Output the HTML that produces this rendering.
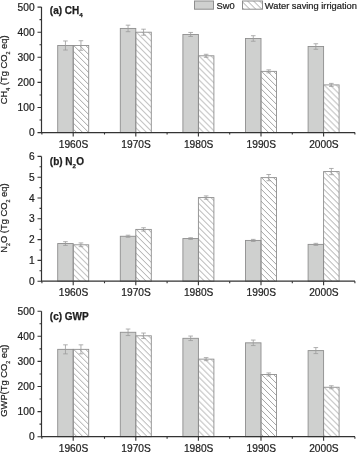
<!DOCTYPE html>
<html><head><meta charset="utf-8"><style>
html,body{margin:0;padding:0;background:#fff;}
body{width:357px;height:452px;overflow:hidden;}
svg{display:block;filter:blur(0.35px);}
text{font-family:"Liberation Sans",sans-serif;fill:#1e1e1e;stroke:#1e1e1e;stroke-width:0.22px;}
.t{font-size:10.2px;}
.ti{font-size:10px;font-weight:bold;stroke-width:0.25px;}
.sub{font-size:5.6px;}
.ti .sub{font-size:6.2px;}
.yl{font-size:9.9px;}
.lg{font-size:9.3px;}
</style></head><body>
<svg width="357" height="452" viewBox="0 0 357 452">
<defs>
<pattern id="ha0" patternUnits="userSpaceOnUse" width="6" height="6" patternTransform="translate(73.2 45)"><path d="M-1 5L1 7M0 0L6 6M5 -1L7 1" stroke="#9a9a9a" stroke-width="0.9"/></pattern>
<pattern id="ha1" patternUnits="userSpaceOnUse" width="6" height="6" patternTransform="translate(135.8 31.7)"><path d="M-1 5L1 7M0 0L6 6M5 -1L7 1" stroke="#9a9a9a" stroke-width="0.9"/></pattern>
<pattern id="ha2" patternUnits="userSpaceOnUse" width="6" height="6" patternTransform="translate(198.4 55.29)"><path d="M-1 5L1 7M0 0L6 6M5 -1L7 1" stroke="#9a9a9a" stroke-width="0.9"/></pattern>
<pattern id="ha3" patternUnits="userSpaceOnUse" width="6" height="6" patternTransform="translate(261 70.86)"><path d="M-1 5L1 7M0 0L6 6M5 -1L7 1" stroke="#9a9a9a" stroke-width="0.9"/></pattern>
<pattern id="ha4" patternUnits="userSpaceOnUse" width="6" height="6" patternTransform="translate(323.6 84.41)"><path d="M-1 5L1 7M0 0L6 6M5 -1L7 1" stroke="#9a9a9a" stroke-width="0.9"/></pattern>
<pattern id="hb0" patternUnits="userSpaceOnUse" width="6" height="6" patternTransform="translate(73.2 244.3)"><path d="M-1 5L1 7M0 0L6 6M5 -1L7 1" stroke="#9a9a9a" stroke-width="0.9"/></pattern>
<pattern id="hb1" patternUnits="userSpaceOnUse" width="6" height="6" patternTransform="translate(135.8 228.91)"><path d="M-1 5L1 7M0 0L6 6M5 -1L7 1" stroke="#9a9a9a" stroke-width="0.9"/></pattern>
<pattern id="hb2" patternUnits="userSpaceOnUse" width="6" height="6" patternTransform="translate(198.4 197.08)"><path d="M-1 5L1 7M0 0L6 6M5 -1L7 1" stroke="#9a9a9a" stroke-width="0.9"/></pattern>
<pattern id="hb3" patternUnits="userSpaceOnUse" width="6" height="6" patternTransform="translate(261 177.12)"><path d="M-1 5L1 7M0 0L6 6M5 -1L7 1" stroke="#9a9a9a" stroke-width="0.9"/></pattern>
<pattern id="hb4" patternUnits="userSpaceOnUse" width="6" height="6" patternTransform="translate(323.6 171.08)"><path d="M-1 5L1 7M0 0L6 6M5 -1L7 1" stroke="#9a9a9a" stroke-width="0.9"/></pattern>
<pattern id="hc0" patternUnits="userSpaceOnUse" width="6" height="6" patternTransform="translate(73.2 348.85)"><path d="M-1 5L1 7M0 0L6 6M5 -1L7 1" stroke="#9a9a9a" stroke-width="0.9"/></pattern>
<pattern id="hc1" patternUnits="userSpaceOnUse" width="6" height="6" patternTransform="translate(135.8 335.3)"><path d="M-1 5L1 7M0 0L6 6M5 -1L7 1" stroke="#9a9a9a" stroke-width="0.9"/></pattern>
<pattern id="hc2" patternUnits="userSpaceOnUse" width="6" height="6" patternTransform="translate(198.4 358.64)"><path d="M-1 5L1 7M0 0L6 6M5 -1L7 1" stroke="#9a9a9a" stroke-width="0.9"/></pattern>
<pattern id="hc3" patternUnits="userSpaceOnUse" width="6" height="6" patternTransform="translate(261 373.95)"><path d="M-1 5L1 7M0 0L6 6M5 -1L7 1" stroke="#9a9a9a" stroke-width="0.9"/></pattern>
<pattern id="hc4" patternUnits="userSpaceOnUse" width="6" height="6" patternTransform="translate(323.6 386.75)"><path d="M-1 5L1 7M0 0L6 6M5 -1L7 1" stroke="#9a9a9a" stroke-width="0.9"/></pattern>
<pattern id="h2" patternUnits="userSpaceOnUse" width="6" height="6" patternTransform="translate(0.9 0.4)">
<path d="M-1 5L1 7M0 0L6 6M5 -1L7 1" stroke="#9a9a9a" stroke-width="0.9"/>
</pattern>
</defs>
<rect width="357" height="452" fill="#fff"/>
<rect x="57.7" y="45.5" width="15.5" height="87.1" fill="#cfd0cf" stroke="#8e8e8e" stroke-width="0.9"/>
<path d="M65.45 40.98V50.02M63.15 40.98H67.75M63.15 50.02H67.75" stroke="#9c9c9c" stroke-width="0.8" fill="none"/>
<rect x="73.2" y="45.5" width="15.5" height="87.1" fill="url(#ha0)" stroke="#8e8e8e" stroke-width="0.9"/>
<path d="M80.95 40.73V50.27M78.65 40.73H83.25M78.65 50.27H83.25" stroke="#9c9c9c" stroke-width="0.8" fill="none"/>
<rect x="120.3" y="28.43" width="15.5" height="104.17" fill="#cfd0cf" stroke="#8e8e8e" stroke-width="0.9"/>
<path d="M128.05 25.17V31.7M125.75 25.17H130.35M125.75 31.7H130.35" stroke="#9c9c9c" stroke-width="0.8" fill="none"/>
<rect x="135.8" y="32.2" width="15.5" height="100.4" fill="url(#ha1)" stroke="#8e8e8e" stroke-width="0.9"/>
<path d="M143.55 29.19V35.21M141.25 29.19H145.85M141.25 35.21H145.85" stroke="#9c9c9c" stroke-width="0.8" fill="none"/>
<rect x="182.9" y="34.46" width="15.5" height="98.14" fill="#cfd0cf" stroke="#8e8e8e" stroke-width="0.9"/>
<path d="M190.65 32.45V36.47M188.35 32.45H192.95M188.35 36.47H192.95" stroke="#9c9c9c" stroke-width="0.8" fill="none"/>
<rect x="198.4" y="55.79" width="15.5" height="76.81" fill="url(#ha2)" stroke="#8e8e8e" stroke-width="0.9"/>
<path d="M206.15 54.29V57.3M203.85 54.29H208.45M203.85 57.3H208.45" stroke="#9c9c9c" stroke-width="0.8" fill="none"/>
<rect x="245.5" y="38.47" width="15.5" height="94.12" fill="#cfd0cf" stroke="#8e8e8e" stroke-width="0.9"/>
<path d="M253.25 35.71V41.24M250.95 35.71H255.55M250.95 41.24H255.55" stroke="#9c9c9c" stroke-width="0.8" fill="none"/>
<rect x="261" y="71.36" width="15.5" height="61.24" fill="url(#ha3)" stroke="#8e8e8e" stroke-width="0.9"/>
<path d="M268.75 69.85V72.86M266.45 69.85H271.05M266.45 72.86H271.05" stroke="#9c9c9c" stroke-width="0.8" fill="none"/>
<rect x="308.1" y="46.51" width="15.5" height="86.09" fill="#cfd0cf" stroke="#8e8e8e" stroke-width="0.9"/>
<path d="M315.85 43.75V49.27M313.55 43.75H318.15M313.55 49.27H318.15" stroke="#9c9c9c" stroke-width="0.8" fill="none"/>
<rect x="323.6" y="84.91" width="15.5" height="47.69" fill="url(#ha4)" stroke="#8e8e8e" stroke-width="0.9"/>
<path d="M331.35 83.4V86.42M329.05 83.4H333.65M329.05 86.42H333.65" stroke="#9c9c9c" stroke-width="0.8" fill="none"/>
<path d="M41.5 7.1V132.6H355" stroke="#333333" stroke-width="1.2" fill="none"/>
<path d="M37.5 132.6H41.5M39.5 120.05H41.5M37.5 107.5H41.5M39.5 94.95H41.5M37.5 82.4H41.5M39.5 69.85H41.5M37.5 57.3H41.5M39.5 44.75H41.5M37.5 32.2H41.5M39.5 19.65H41.5M37.5 7.1H41.5M73.2 132.6V136.6M135.8 132.6V136.6M198.4 132.6V136.6M261 132.6V136.6M323.6 132.6V136.6M41.9 132.6V134.6M104.5 132.6V134.6M167.1 132.6V134.6M229.7 132.6V134.6M292.3 132.6V134.6M354.9 132.6V134.6" stroke="#333333" stroke-width="1.1" fill="none"/>
<text x="34.6" y="136.2" text-anchor="end" class="t">0</text>
<text x="34.6" y="111.1" text-anchor="end" class="t">100</text>
<text x="34.6" y="86" text-anchor="end" class="t">200</text>
<text x="34.6" y="60.9" text-anchor="end" class="t">300</text>
<text x="34.6" y="35.8" text-anchor="end" class="t">400</text>
<text x="34.6" y="10.7" text-anchor="end" class="t">500</text>
<text x="73.5" y="147.8" text-anchor="middle" class="t">1960S</text>
<text x="136.1" y="147.8" text-anchor="middle" class="t">1970S</text>
<text x="198.7" y="147.8" text-anchor="middle" class="t">1980S</text>
<text x="261.3" y="147.8" text-anchor="middle" class="t">1990S</text>
<text x="323.9" y="147.8" text-anchor="middle" class="t">2000S</text>
<text x="49.8" y="14.2" class="ti">(a) CH<tspan class="sub" dy="3">4</tspan><tspan dy="-3" dx="0.2"></tspan></text>
<text transform="translate(7.0 69.8) scale(1 0.945) rotate(-90)" text-anchor="middle" class="yl">CH<tspan class="sub" dy="2.8">4</tspan><tspan dy="-2.8"> (Tg CO</tspan><tspan class="sub" dy="2.8">2</tspan><tspan dy="-2.8"> eq)</tspan></text>
<rect x="57.7" y="243.55" width="15.5" height="37.65" fill="#cfd0cf" stroke="#8e8e8e" stroke-width="0.9"/>
<path d="M65.45 241.68V245.42M63.15 241.68H67.75M63.15 245.42H67.75" stroke="#9c9c9c" stroke-width="0.8" fill="none"/>
<rect x="73.2" y="244.8" width="15.5" height="36.4" fill="url(#hb0)" stroke="#8e8e8e" stroke-width="0.9"/>
<path d="M80.95 242.93V246.67M78.65 242.93H83.25M78.65 246.67H83.25" stroke="#9c9c9c" stroke-width="0.8" fill="none"/>
<rect x="120.3" y="236.27" width="15.5" height="44.93" fill="#cfd0cf" stroke="#8e8e8e" stroke-width="0.9"/>
<path d="M128.05 235.23V237.31M125.75 235.23H130.35M125.75 237.31H130.35" stroke="#9c9c9c" stroke-width="0.8" fill="none"/>
<rect x="135.8" y="229.41" width="15.5" height="51.79" fill="url(#hb1)" stroke="#8e8e8e" stroke-width="0.9"/>
<path d="M143.55 227.74V231.07M141.25 227.74H145.85M141.25 231.07H145.85" stroke="#9c9c9c" stroke-width="0.8" fill="none"/>
<rect x="182.9" y="238.56" width="15.5" height="42.64" fill="#cfd0cf" stroke="#8e8e8e" stroke-width="0.9"/>
<path d="M190.65 237.73V239.39M188.35 237.73H192.95M188.35 239.39H192.95" stroke="#9c9c9c" stroke-width="0.8" fill="none"/>
<rect x="198.4" y="197.58" width="15.5" height="83.62" fill="url(#hb2)" stroke="#8e8e8e" stroke-width="0.9"/>
<path d="M206.15 195.92V199.25M203.85 195.92H208.45M203.85 199.25H208.45" stroke="#9c9c9c" stroke-width="0.8" fill="none"/>
<rect x="245.5" y="240.43" width="15.5" height="40.77" fill="#cfd0cf" stroke="#8e8e8e" stroke-width="0.9"/>
<path d="M253.25 239.39V241.47M250.95 239.39H255.55M250.95 241.47H255.55" stroke="#9c9c9c" stroke-width="0.8" fill="none"/>
<rect x="261" y="177.62" width="15.5" height="103.58" fill="url(#hb3)" stroke="#8e8e8e" stroke-width="0.9"/>
<path d="M268.75 174.5V180.74M266.45 174.5H271.05M266.45 180.74H271.05" stroke="#9c9c9c" stroke-width="0.8" fill="none"/>
<rect x="308.1" y="244.38" width="15.5" height="36.82" fill="#cfd0cf" stroke="#8e8e8e" stroke-width="0.9"/>
<path d="M315.85 243.34V245.42M313.55 243.34H318.15M313.55 245.42H318.15" stroke="#9c9c9c" stroke-width="0.8" fill="none"/>
<rect x="323.6" y="171.58" width="15.5" height="109.62" fill="url(#hb4)" stroke="#8e8e8e" stroke-width="0.9"/>
<path d="M331.35 168.46V174.7M329.05 168.46H333.65M329.05 174.7H333.65" stroke="#9c9c9c" stroke-width="0.8" fill="none"/>
<path d="M41.5 156.4V281.2H355" stroke="#333333" stroke-width="1.2" fill="none"/>
<path d="M37.5 281.2H41.5M39.5 270.8H41.5M37.5 260.4H41.5M39.5 250H41.5M37.5 239.6H41.5M39.5 229.2H41.5M37.5 218.8H41.5M39.5 208.4H41.5M37.5 198H41.5M39.5 187.6H41.5M37.5 177.2H41.5M39.5 166.8H41.5M37.5 156.4H41.5M73.2 281.2V285.2M135.8 281.2V285.2M198.4 281.2V285.2M261 281.2V285.2M323.6 281.2V285.2M41.9 281.2V283.2M104.5 281.2V283.2M167.1 281.2V283.2M229.7 281.2V283.2M292.3 281.2V283.2M354.9 281.2V283.2" stroke="#333333" stroke-width="1.1" fill="none"/>
<text x="34.6" y="284.8" text-anchor="end" class="t">0</text>
<text x="34.6" y="264" text-anchor="end" class="t">1</text>
<text x="34.6" y="243.2" text-anchor="end" class="t">2</text>
<text x="34.6" y="222.4" text-anchor="end" class="t">3</text>
<text x="34.6" y="201.6" text-anchor="end" class="t">4</text>
<text x="34.6" y="180.8" text-anchor="end" class="t">5</text>
<text x="34.6" y="160" text-anchor="end" class="t">6</text>
<text x="73.5" y="296.4" text-anchor="middle" class="t">1960S</text>
<text x="136.1" y="296.4" text-anchor="middle" class="t">1970S</text>
<text x="198.7" y="296.4" text-anchor="middle" class="t">1980S</text>
<text x="261.3" y="296.4" text-anchor="middle" class="t">1990S</text>
<text x="323.9" y="296.4" text-anchor="middle" class="t">2000S</text>
<text x="49.8" y="165.4" class="ti">(b) N<tspan class="sub" dy="3">2</tspan><tspan dy="-3" dx="0.2">O</tspan></text>
<text transform="translate(7.0 218.1) scale(1 0.945) rotate(-90)" text-anchor="middle" class="yl">N<tspan class="sub" dy="2.8">2</tspan><tspan dy="-2.8">O (Tg CO</tspan><tspan class="sub" dy="2.8">2</tspan><tspan dy="-2.8"> eq)</tspan></text>
<rect x="57.7" y="349.35" width="15.5" height="87.35" fill="#cfd0cf" stroke="#8e8e8e" stroke-width="0.9"/>
<path d="M65.45 344.83V353.87M63.15 344.83H67.75M63.15 353.87H67.75" stroke="#9c9c9c" stroke-width="0.8" fill="none"/>
<rect x="73.2" y="349.35" width="15.5" height="87.35" fill="url(#hc0)" stroke="#8e8e8e" stroke-width="0.9"/>
<path d="M80.95 344.83V353.87M78.65 344.83H83.25M78.65 353.87H83.25" stroke="#9c9c9c" stroke-width="0.8" fill="none"/>
<rect x="120.3" y="332.28" width="15.5" height="104.42" fill="#cfd0cf" stroke="#8e8e8e" stroke-width="0.9"/>
<path d="M128.05 329.02V335.55M125.75 329.02H130.35M125.75 335.55H130.35" stroke="#9c9c9c" stroke-width="0.8" fill="none"/>
<rect x="135.8" y="335.8" width="15.5" height="100.9" fill="url(#hc1)" stroke="#8e8e8e" stroke-width="0.9"/>
<path d="M143.55 333.04V338.56M141.25 333.04H145.85M141.25 338.56H145.85" stroke="#9c9c9c" stroke-width="0.8" fill="none"/>
<rect x="182.9" y="338.31" width="15.5" height="98.39" fill="#cfd0cf" stroke="#8e8e8e" stroke-width="0.9"/>
<path d="M190.65 336.05V340.57M188.35 336.05H192.95M188.35 340.57H192.95" stroke="#9c9c9c" stroke-width="0.8" fill="none"/>
<rect x="198.4" y="359.14" width="15.5" height="77.56" fill="url(#hc2)" stroke="#8e8e8e" stroke-width="0.9"/>
<path d="M206.15 357.63V360.65M203.85 357.63H208.45M203.85 360.65H208.45" stroke="#9c9c9c" stroke-width="0.8" fill="none"/>
<rect x="245.5" y="342.83" width="15.5" height="93.87" fill="#cfd0cf" stroke="#8e8e8e" stroke-width="0.9"/>
<path d="M253.25 340.06V345.59M250.95 340.06H255.55M250.95 345.59H255.55" stroke="#9c9c9c" stroke-width="0.8" fill="none"/>
<rect x="261" y="374.45" width="15.5" height="62.25" fill="url(#hc3)" stroke="#8e8e8e" stroke-width="0.9"/>
<path d="M268.75 372.95V375.96M266.45 372.95H271.05M266.45 375.96H271.05" stroke="#9c9c9c" stroke-width="0.8" fill="none"/>
<rect x="308.1" y="350.61" width="15.5" height="86.09" fill="#cfd0cf" stroke="#8e8e8e" stroke-width="0.9"/>
<path d="M315.85 347.59V353.62M313.55 347.59H318.15M313.55 353.62H318.15" stroke="#9c9c9c" stroke-width="0.8" fill="none"/>
<rect x="323.6" y="387.25" width="15.5" height="49.45" fill="url(#hc4)" stroke="#8e8e8e" stroke-width="0.9"/>
<path d="M331.35 385.75V388.76M329.05 385.75H333.65M329.05 388.76H333.65" stroke="#9c9c9c" stroke-width="0.8" fill="none"/>
<path d="M41.5 311.2V436.7H355" stroke="#333333" stroke-width="1.2" fill="none"/>
<path d="M37.5 436.7H41.5M39.5 424.15H41.5M37.5 411.6H41.5M39.5 399.05H41.5M37.5 386.5H41.5M39.5 373.95H41.5M37.5 361.4H41.5M39.5 348.85H41.5M37.5 336.3H41.5M39.5 323.75H41.5M37.5 311.2H41.5M73.2 436.7V440.7M135.8 436.7V440.7M198.4 436.7V440.7M261 436.7V440.7M323.6 436.7V440.7M41.9 436.7V438.7M104.5 436.7V438.7M167.1 436.7V438.7M229.7 436.7V438.7M292.3 436.7V438.7M354.9 436.7V438.7" stroke="#333333" stroke-width="1.1" fill="none"/>
<text x="34.6" y="440.3" text-anchor="end" class="t">0</text>
<text x="34.6" y="415.2" text-anchor="end" class="t">100</text>
<text x="34.6" y="390.1" text-anchor="end" class="t">200</text>
<text x="34.6" y="365" text-anchor="end" class="t">300</text>
<text x="34.6" y="339.9" text-anchor="end" class="t">400</text>
<text x="34.6" y="314.8" text-anchor="end" class="t">500</text>
<text x="73.5" y="451.9" text-anchor="middle" class="t">1960S</text>
<text x="136.1" y="451.9" text-anchor="middle" class="t">1970S</text>
<text x="198.7" y="451.9" text-anchor="middle" class="t">1980S</text>
<text x="261.3" y="451.9" text-anchor="middle" class="t">1990S</text>
<text x="323.9" y="451.9" text-anchor="middle" class="t">2000S</text>
<text x="49.8" y="320.3" class="ti">(c) GWP</text>
<text transform="translate(7.0 380.7) scale(1 0.945) rotate(-90)" text-anchor="middle" class="yl">GWP(Tg CO<tspan class="sub" dy="2.8">2</tspan><tspan dy="-2.8"> eq)</tspan></text>
<rect x="194.5" y="1.0" width="19" height="8.2" fill="#cfd0cf" stroke="#8e8e8e" stroke-width="1"/>
<text x="216.6" y="8.6" class="lg">Sw0</text>
<rect x="242.5" y="1.0" width="20" height="8.2" fill="url(#h2)" stroke="#8e8e8e" stroke-width="1"/>
<text x="264.8" y="8.6" class="lg">Water saving irrigation</text>
</svg>
</body></html>
